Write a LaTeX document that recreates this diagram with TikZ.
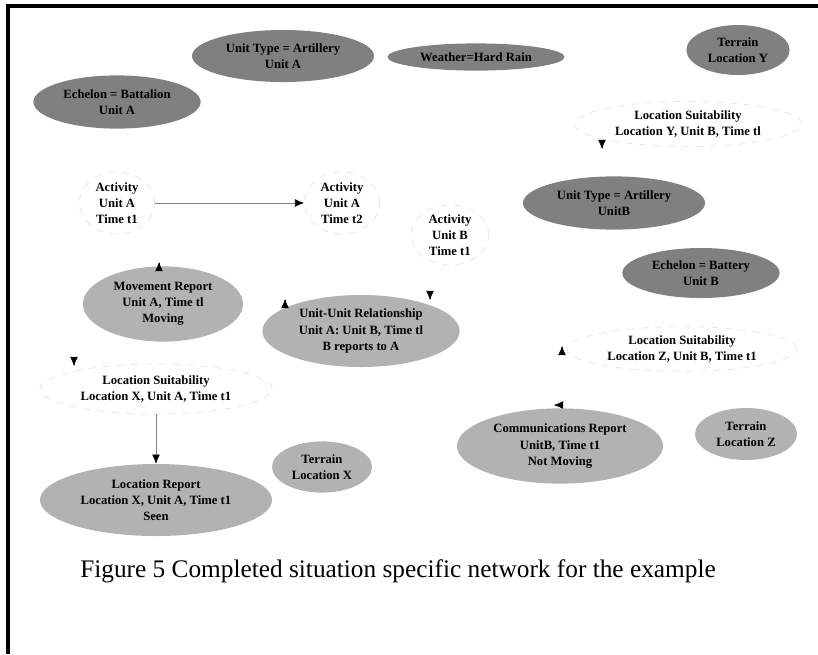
\documentclass[tikz,border=0pt]{standalone}
\usepackage{fontspec}
\setmainfont{Liberation Serif}
\usetikzlibrary{shapes.geometric,arrows.meta}

\definecolor{darkfill}{RGB}{128,128,128}
\definecolor{lightfill}{RGB}{178,178,178}

\tikzset{
	varnode/.style={ellipse,inner sep=0pt,align=center,
		font=\fontsize{9}{11.5}\selectfont\bfseries},
	darkvar/.style={varnode,fill=darkfill,draw=none},
	lightvar/.style={varnode,fill=lightfill,draw=none},
	openvar/.style={varnode,fill=white,draw=gray!25,dash pattern=on 5pt off 5pt},
	link/.style={draw=gray,line width=0.4pt,-{Latex[black,length=6.5pt,width=5.5pt]}},
	tiponly/.style={line width=0.4pt,-{Latex[black,length=6.5pt,width=5.5pt]}},
}

\begin{document}
\begin{tikzpicture}[x=0.025cm,y=-0.025cm]
		\useasboundingbox (0,0) rectangle (818,654);
		\draw[line width=3pt] (8,654) -- (8,6) -- (818,6);

		% unit A side
		\node[darkvar,minimum width=4.55cm,minimum height=1.3cm] (typeA) at (283,56) {Unit Type = Artillery\\Unit A};
		\node[darkvar,minimum width=4.18cm,minimum height=1.33cm] (echA) at (117,102) {Echelon = Battalion\\Unit A};
		\node[darkvar,minimum width=4.43cm,minimum height=0.68cm] (weather) at (476,57) {Weather=Hard Rain};
		\node[darkvar,minimum width=2.58cm,minimum height=1.25cm] (terY) at (738,50) {Terrain\\Location Y};

		\node[openvar,minimum width=5.68cm,minimum height=1.13cm] (suitY) at (688,124) {Location Suitability\\Location Y, Unit B, Time tl};

		\node[openvar,minimum width=1.88cm,minimum height=1.55cm] (actA1) at (117,203) {Activity\\Unit A\\Time t1};
		\node[openvar,minimum width=1.88cm,minimum height=1.55cm] (actA2) at (342,203) {Activity\\Unit A\\Time t2};
		\node[openvar,minimum width=1.93cm,minimum height=1.5cm] (actB1) at (450,235) {Activity\\Unit B\\Time t1};

		% unit B side
		\node[darkvar,minimum width=4.55cm,minimum height=1.33cm] (typeB) at (614,203) {Unit Type = Artillery\\UnitB};
		\node[darkvar,minimum width=3.93cm,minimum height=1.25cm] (echB) at (701,273) {Echelon = Battery\\Unit B};

		% reports
		\node[lightvar,minimum width=4.0cm,minimum height=1.88cm] (moverep) at (163,304) {Movement Report\\Unit A, Time tl\\Moving};
		\node[lightvar,minimum width=4.93cm,minimum height=1.8cm] (relAB) at (361,331) {Unit-Unit Relationship\\Unit A: Unit B, Time tl\\B reports to A};
		\node[openvar,minimum width=5.75cm,minimum height=1.12cm] (suitZ) at (682,349) {Location Suitability\\Location Z, Unit B, Time t1};
		\node[openvar,minimum width=5.8cm,minimum height=1.25cm] (suitX) at (156,389) {Location Suitability\\Location X, Unit A, Time t1};
		\node[lightvar,minimum width=5.8cm,minimum height=1.8cm] (locrep) at (156,500) {Location Report\\Location X, Unit A, Time t1\\Seen};
		\node[lightvar,minimum width=2.5cm,minimum height=1.28cm] (terX) at (322,467) {Terrain\\Location X};
		\node[lightvar,minimum width=5.15cm,minimum height=1.88cm] (commrep) at (560,446) {Communications Report\\UnitB, Time t1\\Not Moving};
		\node[lightvar,minimum width=2.55cm,minimum height=1.3cm] (terZ) at (746,434) {Terrain\\Location Z};

		\node[font=\fontsize{18}{21}\selectfont] (caption) at (398,571) {Figure 5 Completed situation specific network for the example};

		\draw[link] (actA1) -- (actA2);
		\draw[link] (suitX) -- (locrep);

		% loose arrow heads
		\coordinate (tipY) at (602,149);
		\coordinate (tipMR) at (159,262);
		\coordinate (tipRL) at (285,299);
		\coordinate (tipRR) at (430,300);
		\coordinate (tipZ) at (562,346);
		\coordinate (tipX) at (74,366);
		\coordinate (tipC) at (554,405);
		\draw[tiponly] ([yshift=1pt]tipY) -- (tipY);
		\draw[tiponly] ([yshift=-1pt]tipMR) -- (tipMR);
		\draw[tiponly] ([yshift=-1pt]tipRL) -- (tipRL);
		\draw[tiponly] ([yshift=1pt]tipRR) -- (tipRR);
		\draw[tiponly] ([yshift=-1pt]tipZ) -- (tipZ);
		\draw[tiponly] ([yshift=1pt]tipX) -- (tipX);
		\draw[tiponly] ([xshift=1pt]tipC) -- (tipC);
	\end{tikzpicture}
\end{document}
